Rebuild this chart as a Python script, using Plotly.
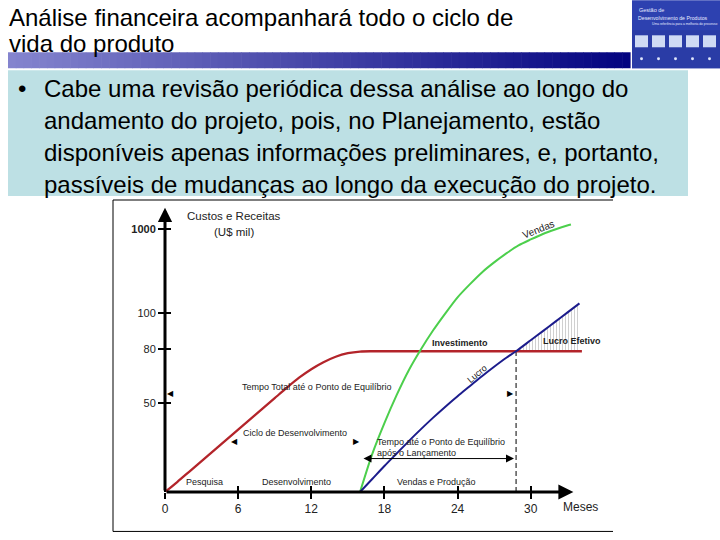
import plotly.graph_objects as go

# ---------------- data ----------------
month_ticks = [0, 6, 12, 18, 24, 30]
month_tick_text = ["0", "6", "12", "18", "24", "30"]
y_tick_pos = [89, 143, 179, 263]
y_tick_text = ["50", "80", "100", "<b>1000</b>"]

investimento_x = [0, 1, 2, 3, 4, 5, 6, 7, 8, 9, 10, 11, 12, 13, 14, 15, 16, 17, 18, 34.2]
investimento_y = [0, 10, 20.5, 31, 41.5, 52, 62.5, 73, 83.5, 94, 104.5, 114.5, 123, 130, 135.5, 139,
                  140.7, 141, 141, 141]

vendas_x = [16, 17, 18, 19, 20, 21, 22, 23, 24, 25, 26, 27, 28, 29, 30, 31, 32, 33, 33.3]
vendas_y = [0, 38, 69, 97, 122, 143, 162, 179, 195, 208, 220, 230, 239, 247, 253, 258.5, 263, 267, 268]

lucro_x = [16, 17, 18, 19, 20, 21, 22, 23, 24, 25, 26, 27, 28, 28.8, 30, 31, 32, 33, 34]
lucro_y = [0, 13, 26, 38.5, 51, 63, 74.5, 85.5, 96, 106, 116, 125.5, 134.5, 141, 152, 161.2, 170.4,
           179.7, 189]

breakeven_month = 28.8
investment_level = 141
launch_month = 16.0

title_lines = ["Análise financeira acompanhará todo o ciclo de", "vida do produto"]
bullet_lines = [
    "Cabe uma revisão periódica dessa análise ao longo do",
    "andamento do projeto, pois, no Planejamento, estão",
    "disponíveis apenas informações preliminares, e, portanto,",
    "passíveis de mudanças ao longo da execução do projeto.",
]

# ---------------- layout geometry ----------------
W, H = 720, 540
L, R, T, B = 165, 106, 207, 47.5
PW, PH = W - L - R, H - T - B
PX_PER_MONTH = 12.19
XMAX = PW / PX_PER_MONTH


def fx(px):
    return (px - L) / PW


def fy(py):
    return (H - B - py) / PH


FONT = "Liberation Sans, Arial, sans-serif"
TXT = "#222222"

fig = go.Figure()

# Lucro efetivo hatch (between investment level and profit line after breakeven)
ef_x = [x for x in lucro_x if x >= breakeven_month]
ef_y = [y for x, y in zip(lucro_x, lucro_y) if x >= breakeven_month]
fig.add_trace(go.Scatter(x=ef_x, y=[investment_level] * len(ef_x), mode="lines",
                         line=dict(width=0, color="rgba(0,0,0,0)"), hoverinfo="skip", showlegend=False))
fig.add_trace(go.Scatter(x=ef_x, y=ef_y, mode="lines", fill="tonexty",
                         fillcolor="rgba(255,255,255,0)",
                         fillpattern=dict(shape="|", size=3, solidity=0.33, fgcolor="#a0a0a0",
                                          bgcolor="rgba(255,255,255,0)"),
                         line=dict(width=0, color="rgba(0,0,0,0)"), hoverinfo="skip", showlegend=False))

# breakeven dashed line
fig.add_trace(go.Scatter(x=[breakeven_month, breakeven_month], y=[0, investment_level], mode="lines",
                         line=dict(color="black", width=1, dash="5px,3px"), showlegend=False, hoverinfo="skip"))

# curves
fig.add_trace(go.Scatter(x=investimento_x, y=investimento_y, mode="lines", name="Investimento",
                         line=dict(color="#b3242a", width=2.3, shape="spline", smoothing=0.8), showlegend=False))
fig.add_trace(go.Scatter(x=vendas_x, y=vendas_y, mode="lines", name="Vendas",
                         line=dict(color="#4ccf4c", width=2, shape="spline", smoothing=0.8), showlegend=False))
fig.add_trace(go.Scatter(x=lucro_x, y=lucro_y, mode="lines", name="Lucro",
                         line=dict(color="#1c1c8c", width=2, shape="spline", smoothing=0.8), showlegend=False))

ann = []


def t(x, y, text, size=9, bold=False, angle=0, xanchor="center", color=TXT, family=FONT):
    if bold:
        text = "<b>" + text + "</b>"
    ann.append(dict(x=x, y=y, xref="x", yref="y", text=text, showarrow=False, textangle=angle,
                    xanchor=xanchor, yanchor="middle", font=dict(size=size, color=color, family=family)))


# axes arrows
ann.append(dict(x=33.5, y=0, ax=0, ay=0, xref="x", yref="y", axref="x", ayref="y", text="",
                showarrow=True, arrowhead=2, arrowsize=1, arrowwidth=3, arrowcolor="black", standoff=0))
ann.append(dict(x=0, y=284.8, ax=0, ay=0, xref="x", yref="y", axref="x", ayref="y", text="",
                showarrow=True, arrowhead=2, arrowsize=0.95, arrowwidth=3, arrowcolor="black", standoff=0))

# double arrow: tempo até o ponto de equilíbrio após o lançamento
ann.append(dict(x=28.63, y=33.5, ax=16.16, ay=33.5, xref="x", yref="y", axref="x", ayref="y", text="",
                showarrow=True, arrowside="end+start", arrowhead=2, startarrowhead=2, arrowsize=1.6,
                startarrowsize=1.6, arrowwidth=1, arrowcolor="black", standoff=0, startstandoff=0))

# chart texts
t(5.67, 276.5, "Custos e Receitas", size=11.5)
t(5.67, 260.5, "(U$ mil)", size=11.5)
t(30.6, 262.5, "Vendas", size=10, angle=-22)
t(24.2, 149.5, "Investimento", size=9, bold=True)
t(33.4, 151.5, "Lucro Efetivo", size=9, bold=True)
t(25.6, 118, "Lucro", size=9, angle=-40)
t(12.45, 105.5, "Tempo Total até o Ponto de Equilíbrio", size=9)
t(10.7, 59.5, "Ciclo de Desenvolvimento", size=9)
t(17.25, 50.5, "Tempo até o Ponto de Equilíbrio", size=9, xanchor="left")
t(17.25, 39.5, "após o Lançamento", size=9, xanchor="left")
t(3.25, 10.5, "Pesquisa", size=9)
t(10.75, 10.5, "Desenvolvimento", size=9)
t(22.3, 10.5, "Vendas e Produção", size=9)
# small arrowheads
tri = "DejaVu Sans, sans-serif"
t(0.41, 99, "◀", size=8, family=tri, color="black")
t(28.34, 99, "▶", size=8, family=tri, color="black")
t(5.74, 51, "◀", size=8, family=tri, color="black")
t(15.71, 51, "▶", size=8, family=tri, color="black")

# Meses (outside range -> paper)
ann.append(dict(x=fx(580), y=fy(508), xref="paper", yref="paper", text="Meses", showarrow=False,
                xanchor="center", yanchor="middle", font=dict(size=12, color=TXT, family=FONT)))

# slide title
for i, line in enumerate(title_lines):
    ann.append(dict(x=fx(7), y=fy([16.7, 43.0][i]), xref="paper", yref="paper", text=line,
                    showarrow=False, xanchor="left", yanchor="middle",
                    font=dict(size=24, color="black", family=FONT)))
# bullet
ann.append(dict(x=fx(22), y=fy(88.5), xref="paper", yref="paper", text="•", showarrow=False,
                xanchor="center", yanchor="middle", font=dict(size=24, color="black", family=FONT)))
for i, line in enumerate(bullet_lines):
    ann.append(dict(x=fx(42), y=fy(88.7 + 32 * i), xref="paper", yref="paper", text=line,
                    showarrow=False, xanchor="left", yanchor="middle",
                    font=dict(size=24, color="black", family=FONT)))

# logo texts
logo_txt = [("Gestão de", 638, 10, 5.5), ("Desenvolvimento de Produtos", 637, 17.5, 5.2),
            ("Uma referência para a melhoria do processo", 651, 24, 3.3)]
for txt, x0, y0, s in logo_txt:
    ann.append(dict(x=fx(x0), y=fy(y0), xref="paper", yref="paper", text=txt, showarrow=False,
                    xanchor="left", yanchor="middle", borderpad=0,
                    font=dict(size=s, color="#e6ebff", family=FONT)))

shapes = []


def rect(x0, y0, x1, y1, color, line_color=None):
    shapes.append(dict(type="rect", xref="paper", yref="paper", x0=fx(x0), x1=fx(x1), y0=fy(y1), y1=fy(y0),
                       fillcolor=color, line=dict(width=0 if line_color is None else 1,
                                                  color=line_color or color), layer="below"))


def hline(x0, x1, y, w=1, color="black"):
    shapes.append(dict(type="line", xref="paper", yref="paper", x0=fx(x0), x1=fx(x1), y0=fy(y), y1=fy(y),
                       line=dict(width=w, color=color)))


def vline(x, y0, y1, w=1, color="black"):
    shapes.append(dict(type="line", xref="paper", yref="paper", x0=fx(x), x1=fx(x), y0=fy(y0), y1=fy(y1),
                       line=dict(width=w, color=color)))


# light blue content box
rect(8, 70, 688, 196, "#bde0e4")
# gradient bar
n = 80
x_start, x_end = 8, 630
c0, c1 = (132, 132, 206), (4, 4, 128)
for i in range(n):
    a = i / (n - 1)
    col = "rgb(%d,%d,%d)" % tuple(round(c0[k] + (c1[k] - c0[k]) * a) for k in range(3))
    xa = x_start + (x_end - x_start) * i / n
    xb = x_start + (x_end - x_start) * (i + 1) / n + 0.6
    rect(xa, 52, xb, 68, col)
# logo
rect(632, 0, 720, 68, "#2d41b0")
rect(632, 30, 720, 68, "#2a3ca6")
for i in range(5):
    shapes.append(dict(type="rect", xref="paper", yref="paper", x0=fx(635 + i * 17), x1=fx(648 + i * 17),
                       y0=fy(47), y1=fy(35), fillcolor="#cfdaf4", line=dict(width=0), layer="below"))
    shapes.append(dict(type="circle", xref="paper", yref="paper", x0=fx(640 + i * 17), x1=fx(643 + i * 17),
                       y0=fy(60), y1=fy(57), fillcolor="#dfe6fb", line=dict(width=0), layer="below"))
# chart frame
hline(113, 613, 200)
hline(113, 613, 532)
vline(113, 200, 532)

eps = 0.001
fig.update_layout(
    width=W, height=H, margin=dict(l=L, r=R, t=T, b=B),
    paper_bgcolor="white", plot_bgcolor="white",
    annotations=ann, shapes=shapes, showlegend=False,
    xaxis=dict(range=[0, XMAX], tickmode="array", tickvals=month_ticks, ticktext=month_tick_text,
               ticks="outside", ticklen=6, tickwidth=2, tickcolor="black", showline=False,
               showgrid=False, zeroline=False, tickfont=dict(size=12, color=TXT, family=FONT),
               minor=dict(tickmode="array", tickvals=[v + eps for v in month_ticks], ticks="inside",
                          ticklen=6, tickwidth=2, tickcolor="black", showgrid=False),
               fixedrange=True),
    yaxis=dict(range=[0, PH], tickmode="array", tickvals=y_tick_pos, ticktext=y_tick_text,
               ticks="outside", ticklen=6, tickwidth=2, tickcolor="black", showline=False,
               showgrid=False, zeroline=False, tickfont=dict(size=11, color=TXT, family=FONT),
               minor=dict(tickmode="array", tickvals=[v + eps for v in y_tick_pos], ticks="inside",
                          ticklen=6, tickwidth=2, tickcolor="black", showgrid=False),
               fixedrange=True),
)

fig.write_html("out.html", config={"displayModeBar": False},
               post_script="document.body.style.margin='0px';document.body.style.overflow='hidden';")
